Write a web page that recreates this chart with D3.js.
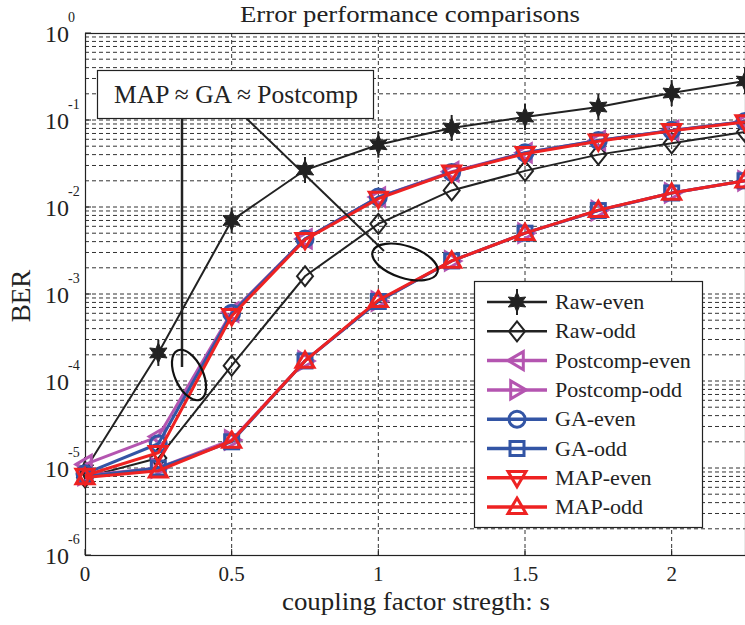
<!DOCTYPE html>
<html><head><meta charset="utf-8">
<script src="https://cdn.jsdelivr.net/npm/d3@7"></script>
<style>body{margin:0;background:#fff}svg{display:block}text{font-family:"Liberation Serif","Times New Roman",serif;fill:#222}</style>
</head><body><svg id="c" width="745" height="625"></svg>
<script>
const xs = [0, 0.25, 0.5, 0.75, 1, 1.25, 1.5, 1.75, 2, 2.25];
const rawEven = [9.5e-6, 2.1e-4, 7e-3, 2.66e-2, 5.2e-2, 8.1e-2, 0.108, 0.141, 0.204, 0.28];
const rawOdd = [7.8e-6, 1.3e-5, 1.5e-4, 1.6e-3, 6.4e-3, 1.55e-2, 2.6e-2, 4.0e-2, 5.4e-2, 7.3e-2];
const postEven = [1.1e-5, 2.3e-5, 6.2e-4, 4.3e-3, 1.3e-2, 2.55e-2, 4.2e-2, 5.8e-2, 7.6e-2, 9.6e-2];
const postOdd = [8.2e-6, 1.0e-5, 2.1e-5, 1.7e-4, 8.3e-4, 2.4e-3, 5.0e-3, 9.1e-3, 1.45e-2, 2.0e-2];
const gaEven = [8.6e-6, 1.9e-5, 6.0e-4, 4.3e-3, 1.3e-2, 2.5e-2, 4.2e-2, 5.8e-2, 7.6e-2, 9.6e-2];
const gaOdd = [8.0e-6, 1.0e-5, 2.0e-5, 1.7e-4, 8.2e-4, 2.4e-3, 5.0e-3, 9.1e-3, 1.45e-2, 2.0e-2];
const mapEven = [8.2e-6, 1.5e-5, 5.6e-4, 4.2e-3, 1.25e-2, 2.5e-2, 4.1e-2, 5.7e-2, 7.5e-2, 9.5e-2];
const mapOdd = [7.8e-6, 9.3e-6, 2.05e-5, 1.7e-4, 8.5e-4, 2.4e-3, 5.0e-3, 9.2e-3, 1.45e-2, 2.0e-2];
const seriesNames = ["Raw-even","Raw-odd","Postcomp-even","Postcomp-odd","GA-even","GA-odd","MAP-even","MAP-odd"];
const xTicks = [0, 0.5, 1, 1.5, 2];
const yExps = [0, -1, -2, -3, -4, -5, -6];

const svg = d3.select("#c");
const L = 85, R = 745, T = 33, B = 555;
const x = d3.scaleLinear().domain([0, 2.25]).range([L, R]);
const y = d3.scaleLog().domain([1e-6, 1]).range([B, T]);

const series = [
  {name: seriesNames[0], v: rawEven, c: "#222", w: 2, m: "star"},
  {name: seriesNames[1], v: rawOdd, c: "#222", w: 2, m: "diamond"},
  {name: seriesNames[2], v: postEven, c: "#b455b0", w: 3, m: "left"},
  {name: seriesNames[3], v: postOdd, c: "#b455b0", w: 3, m: "right"},
  {name: seriesNames[4], v: gaEven, c: "#3355a5", w: 3, m: "circle"},
  {name: seriesNames[5], v: gaOdd, c: "#3355a5", w: 3, m: "square"},
  {name: seriesNames[6], v: mapEven, c: "#ee2222", w: 3, m: "down"},
  {name: seriesNames[7], v: mapOdd, c: "#ee2222", w: 3, m: "up"}
];

// grid
const g = svg.append("g");
const minor = [];
for (let e = -6; e < 0; e++) for (let k = 2; k <= 9; k++) minor.push(k * Math.pow(10, e));
g.selectAll("line.ym").data(minor).enter().append("line")
  .attr("x1", L).attr("x2", R).attr("y1", d => y(d)).attr("y2", d => y(d))
  .attr("stroke", "#333").attr("stroke-width", 1).attr("stroke-dasharray", "4,3");
g.selectAll("line.yM").data(yExps.slice(1, -1)).enter().append("line")
  .attr("x1", L).attr("x2", R).attr("y1", d => y(Math.pow(10, d))).attr("y2", d => y(Math.pow(10, d)))
  .attr("stroke", "#333").attr("stroke-width", 1).attr("stroke-dasharray", "4,3");
g.selectAll("line.xg").data(xTicks.slice(1)).enter().append("line")
  .attr("y1", T).attr("y2", B).attr("x1", d => x(d)).attr("x2", d => x(d))
  .attr("stroke", "#333").attr("stroke-width", 1).attr("stroke-dasharray", "4,3");

// frame
svg.append("rect").attr("x", L + 0.5).attr("y", T + 0.5).attr("width", R - L).attr("height", B - T)
  .attr("fill", "none").attr("stroke", "#222").attr("stroke-width", 1.2);

// ticks (inside)
svg.selectAll("line.xt").data(xTicks).enter().append("line")
  .attr("x1", d => x(d)).attr("x2", d => x(d)).attr("y1", B).attr("y2", B - 6).attr("stroke", "#222");
svg.selectAll("line.yt").data(yExps).enter().append("line")
  .attr("y1", d => y(Math.pow(10, d))).attr("y2", d => y(Math.pow(10, d))).attr("x1", L).attr("x2", L + 6).attr("stroke", "#222");

// tick labels
svg.selectAll("text.xl").data(xTicks).enter().append("text")
  .attr("x", d => x(d)).attr("y", 581).attr("text-anchor", "middle").attr("font-size", 21).text(d => d3.format("")(d));
const yl = svg.selectAll("g.yl").data(yExps).enter().append("g");
yl.append("text").attr("x", 69).attr("y", d => y(Math.pow(10, d)) + 9).attr("text-anchor", "end").attr("font-size", 24).text("10");
yl.append("text").attr("x", 68).attr("y", d => y(Math.pow(10, d)) - 11).attr("font-size", 14).text(d => d);

// titles
svg.append("text").attr("x", 240).attr("y", 22).attr("font-size", 24)
  .attr("textLength", 340).attr("lengthAdjust", "spacingAndGlyphs").text("Error performance comparisons");
svg.append("text").attr("x", 282).attr("y", 610).attr("font-size", 25)
  .attr("textLength", 268).attr("lengthAdjust", "spacingAndGlyphs").text("coupling factor stregth: s");
svg.append("text").attr("transform", "translate(30,296) rotate(-90)").attr("text-anchor", "middle").attr("font-size", 27).text("BER");

// markers
function marker(sel, m, c, px, py) {
  const r = 9;
  if (m === "star") {
    const R1 = 10, R2 = 5;
    const pts = d3.range(12).map(k => {
      const a = -Math.PI / 2 + k * Math.PI / 6;
      const rr = k % 2 === 0 ? R1 : R2;
      return [px + rr * Math.cos(a), py + rr * Math.sin(a)];
    });
    sel.append("path").attr("d", "M" + pts.map(p => p.join(",")).join("L") + "Z").attr("fill", c).attr("stroke", c).attr("stroke-width", 1);
    sel.append("line").attr("x1", px).attr("x2", px).attr("y1", py - 13).attr("y2", py + 13).attr("stroke", c).attr("stroke-width", 2);
  } else if (m === "diamond") {
    sel.append("path").attr("d", `M${px},${py-10}L${px+8},${py}L${px},${py+10}L${px-8},${py}Z`).attr("fill", "none").attr("stroke", c).attr("stroke-width", 2);
  } else if (m === "circle") {
    sel.append("circle").attr("cx", px).attr("cy", py).attr("r", 8).attr("fill", "none").attr("stroke", c).attr("stroke-width", 3);
  } else if (m === "square") {
    sel.append("rect").attr("x", px - 7).attr("y", py - 7).attr("width", 14).attr("height", 14).attr("fill", "none").attr("stroke", c).attr("stroke-width", 3);
  } else {
    let pts;
    if (m === "up") pts = [[0, -r], [r, r * 0.7], [-r, r * 0.7]];
    if (m === "down") pts = [[0, r], [r, -r * 0.7], [-r, -r * 0.7]];
    if (m === "left") pts = [[-r, 0], [r * 0.7, -r], [r * 0.7, r]];
    if (m === "right") pts = [[r, 0], [-r * 0.7, -r], [-r * 0.7, r]];
    sel.append("path").attr("d", "M" + pts.map(p => [px + p[0], py + p[1]].join(",")).join("L") + "Z")
      .attr("fill", "none").attr("stroke", c).attr("stroke-width", 3).attr("stroke-linejoin", "miter");
  }
}

const line = d3.line().x((d, i) => x(xs[i])).y(d => y(d));
const plot = svg.append("g");
series.forEach(s => {
  const sg = plot.append("g");
  sg.append("path").attr("d", line(s.v)).attr("fill", "none").attr("stroke", s.c).attr("stroke-width", s.w);
  s.v.forEach((v, i) => marker(sg, s.m, s.c, x(xs[i]), y(v)));
});

// annotations
const ann = svg.append("g");
ann.append("line").attr("x1", 182).attr("y1", 118).attr("x2", 182).attr("y2", 367).attr("stroke", "#222").attr("stroke-width", 2.5);
ann.append("line").attr("x1", 246).attr("y1", 118).attr("x2", 384).attr("y2", 251).attr("stroke", "#222").attr("stroke-width", 2);
ann.append("ellipse").attr("cx", 0).attr("cy", 0).attr("rx", 14).attr("ry", 27)
  .attr("transform", "translate(189,375) rotate(-25)").attr("fill", "none").attr("stroke", "#111").attr("stroke-width", 2.2);
ann.append("ellipse").attr("cx", 0).attr("cy", 0).attr("rx", 34).attr("ry", 16)
  .attr("transform", "translate(405,262) rotate(18)").attr("fill", "none").attr("stroke", "#111").attr("stroke-width", 2.2);
ann.append("rect").attr("x", 97.5).attr("y", 70.5).attr("width", 276).attr("height", 48).attr("fill", "#fff").attr("stroke", "#222").attr("stroke-width", 1.2);
ann.append("text").attr("x", 236).attr("y", 103).attr("text-anchor", "middle").attr("font-size", 25.5).text("MAP ≈ GA ≈ Postcomp");

// legend
const lg = svg.append("g");
lg.append("rect").attr("x", 474.5).attr("y", 281.5).attr("width", 228).attr("height", 246).attr("fill", "#fff").attr("stroke", "#222").attr("stroke-width", 1.2);
series.forEach((s, i) => {
  const ly = 302 + i * 29.3;
  lg.append("line").attr("x1", 487).attr("x2", 547).attr("y1", ly).attr("y2", ly).attr("stroke", s.c).attr("stroke-width", s.w + 0.5);
  marker(lg, s.m, s.c, 517, ly);
  lg.append("text").attr("x", 555).attr("y", ly + 7).attr("font-size", 22).text(s.name);
});
</script></body></html>
